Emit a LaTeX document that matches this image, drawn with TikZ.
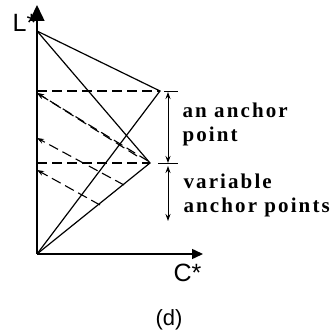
\documentclass[tikz,border=0pt]{standalone}
\usepackage{fontspec}
\setmainfont{Liberation Serif}
\setsansfont{Liberation Sans}
\newfontfamily\notefont[LetterSpace=10,BoldFont={Liberation Serif Bold}]{Liberation Serif}
\usetikzlibrary{arrows.meta}

\begin{document}
\begin{tikzpicture}[x=1pt,y=-1pt,>={Stealth[length=7pt,width=5pt]},line width=1.2pt,
    guide/.style={dash pattern=on 10pt off 5pt,line width=1.1pt},
    axislabel/.style={font=\sffamily\fontsize{25}{28}\selectfont,inner sep=0pt,anchor=base west},
    note/.style={font=\notefont\fontsize{21}{24}\selectfont\bfseries,
      inner sep=0pt,anchor=base west,align=left}]
  \useasboundingbox (0,0) rectangle (332,331);

  % axes and the two anchor points
  \coordinate (O) at (37,254);
  \coordinate (Ltop) at (37,5);
  \coordinate (Cend) at (203,254);
  \coordinate (P) at (37,31);
  \coordinate (A) at (160,91);
  \coordinate (B) at (150,163);
  \coordinate (yA) at (37,91);
  \coordinate (yB) at (37,163);

  \draw[-{Triangle[length=16pt,width=15pt]},line width=1.5pt] (O) -- (Ltop);
  \draw[-{Triangle[length=11pt,width=10pt]},line width=1.5pt] (O) -- (Cend);
  \node[axislabel] (L) at (12,32) {L*};
  \node[axislabel] (C) at (173,281) {C*};

  \draw (P) -- (A) -- (O);
  \draw (P) -- (B) -- (O);
  \draw[guide] (yA) -- (A);
  \draw[guide] (yB) -- (B);

  % projections back to the L* axis
  \coordinate (s1) at (148,161);
  \coordinate (s2) at (137,156);
  \coordinate (s3) at (124,185);
  \coordinate (s4) at (100,205);
  \coordinate (t1) at (37,93);
  \coordinate (t2) at (37,138);
  \coordinate (t3) at (37,170);
  \draw[guide,->] (s1) -- (t1);
  \draw[guide,->] (s2) -- (t1);
  \draw[guide,->] (s3) -- (t2);
  \draw[guide,->] (s4) -- (t3);

  % ranges on the right
  \coordinate (d1) at (168,92);
  \coordinate (d2) at (168,163);
  \coordinate (d3) at (168,166);
  \coordinate (d4) at (168,221);
  \coordinate (kA1) at (164,92);
  \coordinate (kA2) at (178,92);
  \coordinate (kB1) at (158,164);
  \coordinate (kB2) at (178,164);
  \draw[<->,line width=1pt] (d1) -- (d2);
  \draw[<->,line width=1pt] (d3) -- (d4);
  \draw[line width=1pt] (kA1) -- (kA2);
  \draw[line width=1pt] (kB1) -- (kB2);

  \node[note] (one) at (182,142) {an anchor\\point};
  \node[note] (var) at (183,213) {variable\\anchor points};

  \node[font=\sffamily\fontsize{22}{24}\selectfont,inner sep=0pt] (cap) at (169,320) {(d)};
\end{tikzpicture}
\end{document}
